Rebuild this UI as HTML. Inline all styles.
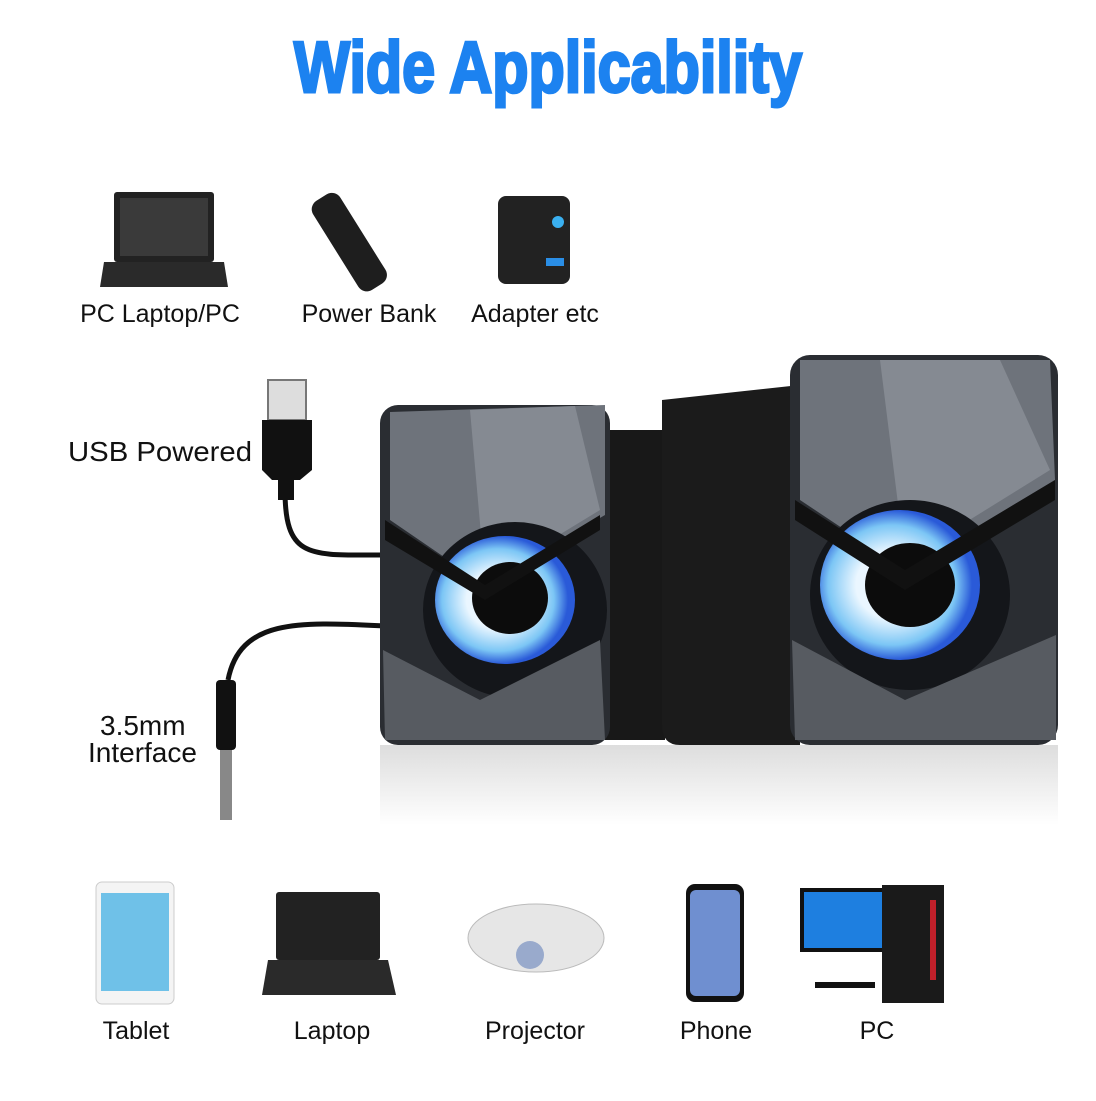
<!DOCTYPE html><html><head><style>
body{margin:0;width:1096px;height:1096px;background:#fff;overflow:hidden;font-family:"Liberation Sans",sans-serif}
</style></head><body>
<svg width="1096" height="1096" viewBox="0 0 1096 1096" xmlns="http://www.w3.org/2000/svg">
<defs>
<radialGradient id="eye" cx="0.45" cy="0.5" r="0.5"><stop offset="0.45" stop-color="#eaf6ff"/><stop offset="0.8" stop-color="#7cc6f5"/><stop offset="1" stop-color="#2a5ad8"/></radialGradient>
<linearGradient id="refl" x1="0" y1="0" x2="0" y2="1"><stop offset="0" stop-color="#bbb"/><stop offset="1" stop-color="#fff"/></linearGradient>
</defs>
<text x="548" y="92" text-anchor="middle" font-family="Liberation Sans Narrow,Liberation Sans,sans-serif" font-weight="bold" font-size="72" fill="#1c82f0" stroke="#1c82f0" stroke-width="3" textLength="508" lengthAdjust="spacingAndGlyphs">Wide Applicability</text>

<!-- top icons -->
<g><rect x="114" y="192" width="100" height="70" rx="3" fill="#222"/><rect x="120" y="198" width="88" height="58" fill="#3a3a3a"/><polygon points="104,262 224,262 228,287 100,287" fill="#2a2a2a"/></g>
<g transform="rotate(-32 348 240)"><rect x="332" y="190" width="32" height="105" rx="10" fill="#1e1e1e"/></g>
<g><rect x="498" y="196" width="72" height="88" rx="8" fill="#222"/><circle cx="558" cy="222" r="6" fill="#3ab0f0"/><rect x="546" y="258" width="18" height="8" fill="#2a8ee6"/></g>
<g font-size="25" fill="#111" text-anchor="middle"><text x="160" y="322">PC Laptop/PC</text><text x="369" y="322">Power Bank</text><text x="535" y="322">Adapter etc</text></g>

<!-- cables -->
<path d="M285 490 C285 560 310 555 385 555" stroke="#111" stroke-width="5" fill="none"/>
<path d="M385 626 C300 622 240 618 228 680" stroke="#111" stroke-width="5" fill="none"/>
<rect x="268" y="380" width="38" height="40" fill="#ddd" stroke="#777" stroke-width="2"/>
<path d="M262 420 H312 V470 L300 480 H272 L262 470Z" fill="#111"/>
<rect x="278" y="478" width="16" height="22" fill="#111"/>
<rect x="216" y="680" width="20" height="70" rx="4" fill="#111"/>
<rect x="220" y="750" width="12" height="70" fill="#888"/>
<g font-size="28" fill="#111"><text x="68" y="461" textLength="184" lengthAdjust="spacingAndGlyphs">USB Powered</text><text x="100" y="735">3.5mm</text><text x="88" y="762">Interface</text></g>

<!-- reflection -->
<rect x="380" y="745" width="678" height="80" fill="url(#refl)" opacity="0.5"/>
<!-- speakers -->
<rect x="600" y="430" width="65" height="310" fill="#181818"/>
<path d="M662 400 L800 385 V745 H680 Q662 745 662 725Z" fill="#1b1b1b"/>
<rect x="380" y="405" width="230" height="340" rx="18" fill="#2a2d32"/>
<polygon points="390,412 605,405 605,515 485,585 390,520" fill="#6e737b"/>
<polygon points="470,410 575,406 600,510 485,580" fill="#858a92"/>
<ellipse cx="515" cy="610" rx="92" ry="88" fill="#14161a"/>
<ellipse cx="505" cy="600" rx="70" ry="64" fill="url(#eye)"/>
<ellipse cx="510" cy="598" rx="38" ry="36" fill="#0c0c0c"/>
<polygon points="385,520 485,585 600,515 600,530 485,600 385,540" fill="#111"/>
<polygon points="383,650 480,700 600,640 605,740 385,740" fill="#575b61"/>
<rect x="790" y="355" width="268" height="390" rx="20" fill="#2a2d32"/>
<polygon points="800,360 1050,360 1055,480 905,570 800,500" fill="#6e737b"/>
<polygon points="880,360 1000,360 1050,470 905,560" fill="#858a92"/>
<ellipse cx="910" cy="595" rx="100" ry="95" fill="#14161a"/>
<ellipse cx="900" cy="585" rx="80" ry="75" fill="url(#eye)"/>
<ellipse cx="910" cy="585" rx="45" ry="42" fill="#0c0c0c"/>
<polygon points="795,500 905,570 1055,480 1055,500 905,590 795,520" fill="#111"/>
<polygon points="792,640 905,700 1056,635 1056,740 795,740" fill="#575b61"/>

<!-- bottom icons -->
<rect x="96" y="882" width="78" height="122" rx="6" fill="#f4f4f4" stroke="#ccc"/><rect x="101" y="893" width="68" height="98" fill="#6fc1e8"/>
<rect x="276" y="892" width="104" height="68" rx="3" fill="#222"/><polygon points="268,960 388,960 396,995 262,995" fill="#2a2a2a"/>
<ellipse cx="536" cy="938" rx="68" ry="34" fill="#e6e6e6" stroke="#bbb"/><circle cx="530" cy="955" r="14" fill="#9ac"/>
<rect x="686" y="884" width="58" height="118" rx="9" fill="#111"/><rect x="690" y="890" width="50" height="106" rx="6" fill="#6f8fd0"/>
<rect x="800" y="888" width="88" height="64" fill="#111"/><rect x="804" y="892" width="80" height="56" fill="#1e7fe0"/><rect x="815" y="982" width="60" height="6" fill="#111"/>
<rect x="882" y="885" width="62" height="118" fill="#1a1a1a"/><rect x="930" y="900" width="6" height="80" fill="#c0202a"/>
<g font-size="25" fill="#111" text-anchor="middle"><text x="136" y="1039">Tablet</text><text x="332" y="1039">Laptop</text><text x="535" y="1039">Projector</text><text x="716" y="1039">Phone</text><text x="877" y="1039">PC</text></g>
</svg>
</body></html>
